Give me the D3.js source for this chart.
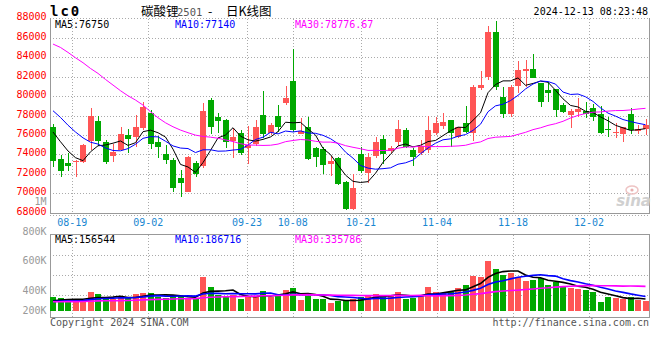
<!DOCTYPE html>
<html><head><meta charset="utf-8">
<script src="https://cdn.jsdelivr.net/npm/d3@7"></script>
<style>
body{margin:0;background:#fff;}
svg{display:block;}
</style></head><body>
<svg id="c" width="660" height="360"></svg>
<script>
// ---------------- DATA ----------------
const dates = ["08-14","08-15","08-16","08-19","08-20","08-21","08-22","08-23","08-26","08-27","08-28","08-29","08-30",
"09-02","09-03","09-04","09-05","09-06","09-09","09-10","09-11","09-12","09-13","09-18","09-19","09-20","09-23","09-24","09-25","09-26","09-27","09-30",
"10-08","10-09","10-10","10-11","10-14","10-15","10-16","10-17","10-18","10-21","10-22","10-23","10-24","10-25","10-28","10-29","10-30","10-31",
"11-01","11-04","11-05","11-06","11-07","11-08","11-11","11-12","11-13","11-14","11-15","11-18","11-19","11-20","11-21","11-22","11-25","11-26","11-27","11-28","11-29",
"12-02","12-03","12-04","12-05","12-06","12-09","12-10","12-11","12-12"];

const open  = [76770,73550,73100,73270,73240,75400,77420,75260,73860,74440,75980,75740,76700,78280,75260,74030,73410,71560,70150,73070,
72830,79550,77840,77530,75400,76230,74680,75090,78040,76160,77940,79310,81540,76090,76770,74680,74540,72970,73620,71150,
68340,74030,72040,73860,75610,74340,75230,76500,74480,74100,74440,76230,76910,77530,75740,77190,76220,80860,81920,86580,
79860,78180,81060,82600,82780,81300,80620,80680,79070,78040,78350,78450,78730,78150,76640,76160,76120,78150,76400,76570];
const high  = [77100,73930,74100,73410,75060,78800,77900,75470,75020,76770,76600,78010,79380,78560,75880,74920,73620,72380,73820,73270,
79310,79760,78210,77630,76670,76500,76910,77530,80510,77190,79070,81030,84800,77730,77870,74780,74780,73860,73760,71290,
71940,74780,74170,75740,75980,74850,77530,76670,74610,75470,77940,77870,78250,77530,76840,78970,81100,82570,87200,87720,
80960,81130,83600,83700,84350,81370,81400,80680,79310,78690,79760,79410,79170,79000,77870,77190,76840,78730,76980,77630];
const low   = [72730,71700,72310,71630,73070,74440,74850,73000,73240,74370,74170,74780,76500,74510,73580,73000,70150,69570,70080,71630,
72550,76090,76160,74610,73580,73930,73000,74850,75640,75980,76290,79040,76330,76090,73410,72660,71970,71800,70840,68270,
68270,72110,71080,73620,73030,74170,74850,74680,72830,73930,74170,75950,76600,74780,75640,76160,75400,80600,81640,80620,
77770,77870,80270,80960,81820,78900,79410,77870,78210,76740,77870,77770,77460,76120,75780,75640,75230,76120,76120,75950];
const close = [73340,72310,72830,73340,74950,77900,75400,73240,74270,76090,75610,76810,78900,75060,74750,73410,70560,71050,73750,71970,
78450,76840,77460,75230,75740,74100,74950,76810,76120,76980,76840,79790,76500,76360,73550,73760,72900,73340,70940,68400,
70560,72310,73760,75260,74060,74610,76640,74780,73760,74890,76500,77220,77290,76220,76770,76290,80960,81130,86580,80960,
78180,80960,82670,82780,81880,79410,80340,78590,78350,78490,78620,78150,77870,76190,76460,76290,76840,76530,76570,77010];
const volume = [183000,170000,160000,140000,133000,230000,210000,160000,160000,180000,167000,210000,220000,220000,183000,173000,200000,190000,167000,160000,
383000,283000,200000,183000,200000,163000,190000,180000,240000,180000,210000,250000,273000,153000,190000,163000,163000,123000,137000,140000,
163000,177000,190000,213000,190000,190000,233000,163000,170000,200000,283000,233000,220000,233000,270000,300000,390000,380000,540000,460000,
400000,420000,380000,340000,350000,370000,300000,330000,280000,270000,260000,250000,230000,130000,180000,170000,160000,180000,150000,140000];

// moving-average values for the first days (history before the window)
const ma5Lead  = [76300,75300,74350,73660];
const ma10Lead = [78490,77800,77000,76300,75700,75250,75060,74660,74400];
const ma30Lead = [85350,85000,84490,83940,83430,82840,82330,81710,81130,80550,80030,79590,79070,78390,77770,77250,76840,76500,76230,75980,
75850,75770,75660,75490,75320,75100,74960,74950,74920];
const volMa5Lead  = [141000,149000,155000,157000];
const volMa10Lead = [135000,139000,142000,143000,144000,154000,162000,165000,168000];
const volMa30Lead = [132000,133000,134000,134000,135000,138000,141000,142000,143000,144000,145000,148000,151000,154000,156000,157000,160000,162000,163000,164000,
172000,177000,180000,182000,184000,185000,187000,189000,192000];

const priceTicks = [88000,86000,84000,82000,80000,78000,76000,74000,72000,70000,68000];
const volTicks = [1000000,800000,600000,400000,200000];
const volTickText = ["1M","800K","600K","400K","200K"];
const volGrid = [600000,400000,200000];
const dateTicks = ["08-19","09-02","09-23","10-08","10-21","11-04","11-18","12-02"];
const maNames = ["MA5","MA10","MA30"];
const priceMaText = ["76750","77140","78776.67"];
const volMaText = ["156544","186716","335786"];
const symbol = "lc0";
const titleParts = ["碳酸锂","2501","-","日K线图"];
const stamp = "2024-12-13 08:23:48";
const copyright = "Copyright 2024 SINA.COM";
const site = "http://finance.sina.com.cn";

// ---------------- STYLE / LAYOUT ----------------
const UP = "#ff5555", DOWN = "#00a800";
const maColors = ["#000000","#0000ff","#ff00ff"];
const MONO = "'DejaVu Sans Mono', 'Liberation Mono', monospace";
const GRID = "#aaaaaa", FRAME = "#999999";

const svg = d3.select("#c");
const x = d3.scaleBand().domain(dates).range([49.25, 649.25]).paddingInner(0.2).paddingOuter(0.1);
const xg = d3.scalePoint().domain(dates).range([49.5, 649.9]);
const bw = x.bandwidth();
const cx = d => x(d) + bw / 2;
const y = d3.scaleLinear().domain([68000, 88000]).range([212.7, 18.3]);
const yv = d3.scaleLinear().domain([40000, 800000]).range([311, 235]);
const yvLabel = d3.scaleLinear().domain([1000000, 400000, 200000]).range([201.5, 290, 310.5]);

function movingAvg(vals, n, lead) {
  return vals.map((v, i) => i < n - 1 ? lead[i] : d3.mean(vals.slice(i - n + 1, i + 1)));
}
const priceMA = [movingAvg(close, 5, ma5Lead), movingAvg(close, 10, ma10Lead), movingAvg(close, 30, ma30Lead)];
const volMA = [movingAvg(volume, 5, volMa5Lead), movingAvg(volume, 10, volMa10Lead), movingAvg(volume, 30, volMa30Lead)];

const gGrid = svg.append("g").attr("shape-rendering", "crispEdges");
gGrid.selectAll("line.ph").data(priceTicks.slice(0, -1)).join("line")
  .attr("x1", 50).attr("x2", 649).attr("y1", d => Math.round(y(d)) + 0.5).attr("y2", d => Math.round(y(d)) + 0.5)
  .attr("stroke", GRID).attr("stroke-dasharray", "1,2");
gGrid.selectAll("line.vh").data(volGrid).join("line")
  .attr("x1", 50).attr("x2", 649).attr("y1", d => Math.round(yv(d)) + 0.5).attr("y2", d => Math.round(yv(d)) + 0.5)
  .attr("stroke", GRID).attr("stroke-dasharray", "1,2");
dateTicks.forEach(dt => {
  const gx = Math.round(xg(dt)) + 0.5;
  gGrid.append("line").attr("x1", gx).attr("x2", gx).attr("y1", 19).attr("y2", 213)
    .attr("stroke", GRID).attr("stroke-dasharray", "1,2");
  gGrid.append("line").attr("x1", gx).attr("x2", gx).attr("y1", 235).attr("y2", 318)
    .attr("stroke", GRID).attr("stroke-dasharray", "1,2");
});
const frame = [[50.5,18,50.5,214],[649.5,18,649.5,214],[50,213.5,650,213.5],
               [50.5,234,50.5,318],[649.5,234,649.5,318],[50,234.5,650,234.5],[50,317.5,650,317.5]];
frame.forEach(f => gGrid.append("line").attr("x1", f[0]).attr("y1", f[1]).attr("x2", f[2]).attr("y2", f[3])
  .attr("stroke", FRAME).attr("stroke-width", 1));
gGrid.append("line").attr("x1", 50).attr("x2", 650).attr("y1", 215.5).attr("y2", 215.5)
  .attr("stroke", GRID).attr("stroke-dasharray", "1,2");

// watermark
const wm = svg.append("g");
wm.append("ellipse").attr("cx", 632).attr("cy", 190).attr("rx", 6).attr("ry", 4)
  .attr("fill", "none").attr("stroke", "#eec4c4").attr("stroke-width", 1.5);
wm.append("circle").attr("cx", 632).attr("cy", 190).attr("r", 1.6).attr("fill", "#e9b0b0");
wm.append("text").attr("x", 651).attr("y", 206).attr("text-anchor", "end")
  .attr("font-family", "'DejaVu Sans', sans-serif").attr("font-weight", "bold").attr("font-style", "italic")
  .attr("font-size", 15).attr("fill", "#d0d0d0").text("sina");

// candles and volume bars
const gC = svg.append("g").attr("shape-rendering", "crispEdges");
dates.forEach((d, i) => {
  const col = close[i] >= open[i] ? UP : DOWN;
  const wx = Math.round(cx(d)) + 0.5;
  gC.append("line").attr("x1", wx).attr("x2", wx).attr("y1", y(high[i])).attr("y2", y(low[i]))
    .attr("stroke", col).attr("stroke-width", 1);
  const top = y(Math.max(open[i], close[i])), bot = y(Math.min(open[i], close[i]));
  gC.append("rect").attr("x", Math.round(x(d))).attr("width", Math.round(bw)).attr("y", top)
    .attr("height", Math.max(1, bot - top)).attr("fill", col);
  gC.append("rect").attr("x", Math.round(x(d))).attr("width", Math.round(bw)).attr("y", yv(volume[i]))
    .attr("height", yv(40000) - yv(volume[i])).attr("fill", col);
});

// MA lines
const lineP = d3.line().x((v, i) => cx(dates[i])).y(v => y(v));
const lineV = d3.line().x((v, i) => cx(dates[i])).y(v => yv(v));
priceMA.forEach((arr, k) => svg.append("path").attr("d", lineP(arr)).attr("fill", "none")
  .attr("stroke", maColors[k]).attr("stroke-width", 1));
volMA.forEach((arr, k) => svg.append("path").attr("d", lineV(arr)).attr("fill", "none")
  .attr("stroke", maColors[k]).attr("stroke-width", 1.6));

// axis labels
const gT = svg.append("g").attr("font-family", MONO).attr("font-size", 10);
gT.selectAll("text.p").data(priceTicks).join("text")
  .attr("x", 46.5).attr("y", d => y(d) - 1.5).attr("dominant-baseline", "central")
  .attr("text-anchor", "end").attr("fill", "#ff0000").text(d => d);
gT.selectAll("text.v").data(volTicks).join("text")
  .attr("x", 46.5).attr("y", d => yvLabel(d)).attr("dominant-baseline", "central")
  .attr("text-anchor", "end").attr("fill", "#999999").text((d, i) => volTickText[i]);
gT.selectAll("text.d").data(dateTicks).join("text")
  .attr("x", d => xg(d)).attr("y", 222).attr("dominant-baseline", "central")
  .attr("text-anchor", "middle").attr("fill", "#1a87d1").text(d => d);

// legends
maNames.forEach((n, k) => {
  gT.append("text").attr("x", 55 + k * 120).attr("y", 24).attr("dominant-baseline", "central")
    .attr("fill", maColors[k]).text(n + ":" + priceMaText[k]);
  gT.append("text").attr("x", 55 + k * 120).attr("y", 239.5).attr("dominant-baseline", "central")
    .attr("fill", maColors[k]).text(n + ":" + volMaText[k]);
});

// header
svg.append("text").attr("x", 50).attr("y", 16).attr("font-family", MONO).attr("font-weight", "bold")
  .attr("font-size", 14).attr("letter-spacing", 2).attr("fill", "#000").text(symbol);
const CJK = "'Noto Sans CJK SC', sans-serif";
const title = svg.append("text").attr("y", 16).attr("font-size", 12.5).attr("fill", "#000");
title.append("tspan").attr("x", 141).attr("font-family", CJK).text(titleParts[0]);
title.append("tspan").attr("x", 177).attr("font-family", MONO).attr("font-size", 10.5).attr("fill", "#555").text(titleParts[1]);
title.append("tspan").attr("x", 208).attr("font-family", CJK).text(titleParts[2]);
title.append("tspan").attr("x", 226).attr("font-family", CJK).text(titleParts[3]);
svg.append("text").attr("x", 648).attr("y", 15).attr("text-anchor", "end").attr("font-family", MONO)
  .attr("font-size", 10).attr("fill", "#000").text(stamp);

// footer
svg.append("text").attr("x", 50).attr("y", 326).attr("font-family", MONO).attr("font-size", 10)
  .attr("fill", "#555").text(copyright);
svg.append("text").attr("x", 649).attr("y", 326).attr("text-anchor", "end").attr("font-family", MONO)
  .attr("font-size", 10).attr("fill", "#555").text(site);
</script>
</body></html>
